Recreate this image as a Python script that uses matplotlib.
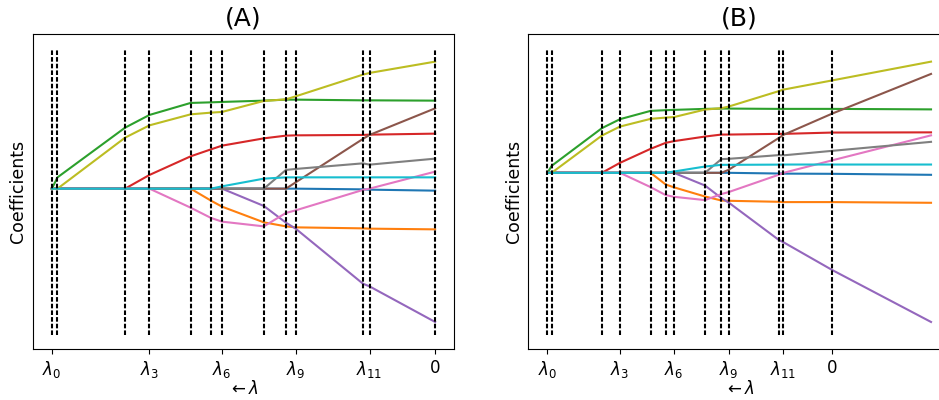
import numpy as np
import matplotlib
matplotlib.use("Agg")
import matplotlib.pyplot as plt

# knot positions along the path (shared by both panels); panel B has one extra point
knots = [0.0, 0.0147, 0.1911, 0.2547, 0.3620, 0.4152, 0.4440,
         0.5531, 0.6107, 0.6361, 0.8115, 0.8288, 1.0]
extra_B = 1.347

tick_idx = [0, 3, 6, 9, 11, 12]
tick_labels = [r'$\lambda_0$', r'$\lambda_3$', r'$\lambda_6$', r'$\lambda_9$', r'$\lambda_{11}$', '0']

# Panel A coefficient paths (order: tab10 C0..C9)
blue_A   = [0]*10 + [-0.7, -1.0, -2.0]
orange_A = [0, 0, 0, 0, 0, -12, -18, -33.7, -37.7, -38.7, -39.7, -40, -40.7]
green_A  = [0, 11.3, 61, 73.7, 85.7, 86.3, 86.7, 88, 89, 89, 88.3, 88.3, 88]
red_A    = [0, 0, 0, 13.7, 32.3, 39.3, 43, 50.3, 53, 53.3, 53.7, 54, 55]
purple_A = [0]*7 + [-17.3, -34, -40, -95, -97.7, -133.3]
brown_A  = [0]*9 + [6.3, 49.7, 53.7, 80.3]
pink_A   = [0, 0, 0, 0, -19, -29.3, -33, -37.7, -24.3, -21.7, -1.3, 0, 17]
gray_A   = [0]*8 + [18.7, 19.7, 25.3, 24, 30]
olive_A  = [0, 0, 51, 63.3, 74.3, 76, 76.7, 87.7, 89.3, 92.3, 114, 115.7, 127]
cyan_A   = [0]*6 + [2.3, 10, 11.3, 11.3, 11.3, 11.3, 11.3]

# Panel B coefficient paths (13 knots + extra point)
blue_B   = [0]*10 + [-0.7, -0.8, -1.0, -2.0]
orange_B = [0, 0, 0, 0, 0, -11.7, -14.5, -23.7, -27.7, -28, -29, -29.3, -29.3, -30]
green_B  = [0, 7, 44.7, 53.7, 62, 62.7, 63, 64, 64.3, 64.3, 64, 64, 64, 63.5]
red_B    = [0, 0, 0, 10, 24, 30, 31.7, 36.3, 38.3, 38.3, 39, 39, 40.3, 40.5]
purple_B = [0]*7 + [-12.7, -25.3, -29.7, -67, -69.5, -97.3, -149.3]
brown_B  = [0]*9 + [3, 34.7, 38, 59.3, 99]
pink_B   = [0, 0, 0, 0, -14.3, -22.3, -24, -27.3, -21.3, -19.3, -2, 0, 12.5, 37.5]
gray_B   = [0]*8 + [13.7, 14, 17.7, 17.5, 22, 31]
olive_B  = [0, 0, 37.3, 46.3, 54, 55.3, 55.8, 63.3, 64.7, 66.3, 81.7, 83.3, 92.5, 111.3]
cyan_B   = [0]*6 + [1.3, 6.3, 8, 8, 8.2, 8.3, 8.3, 8.3]

paths_A = [blue_A, orange_A, green_A, red_A, purple_A, brown_A, pink_A, gray_A, olive_A, cyan_A]
paths_B = [blue_B, orange_B, green_B, red_B, purple_B, brown_B, pink_B, gray_B, olive_B, cyan_B]

fig = plt.figure(figsize=(9.39, 4.0), dpi=100)
axA = fig.add_axes([32.7/939, 50.7/400, 421.6/939, 315/400])
axB = fig.add_axes([528.3/939, 50.7/400, 421.9/939, 315/400])

def draw(ax, xs, paths, title):
    for p in paths:
        ax.plot(xs, p, lw=1.5)
    ymin, ymax = ax.get_ylim()
    ax.vlines(knots, ymin, ymax, colors='k', linewidth=1.5,
              linestyles=(0, (2.2, 1.0)))
    ax.set_xticks([knots[i] for i in tick_idx])
    ax.set_xticklabels(tick_labels, fontsize=12)
    ax.set_yticks([])
    ax.set_ylabel('Coefficients', fontsize=12.5)
    ax.set_xlabel(r'$\leftarrow \lambda$', fontsize=12, labelpad=0)
    ax.set_title(title, fontsize=18)

draw(axA, knots, paths_A, '(A)')
draw(axB, knots + [extra_B], paths_B, '(B)')

fig.savefig('out.png', dpi=100)
